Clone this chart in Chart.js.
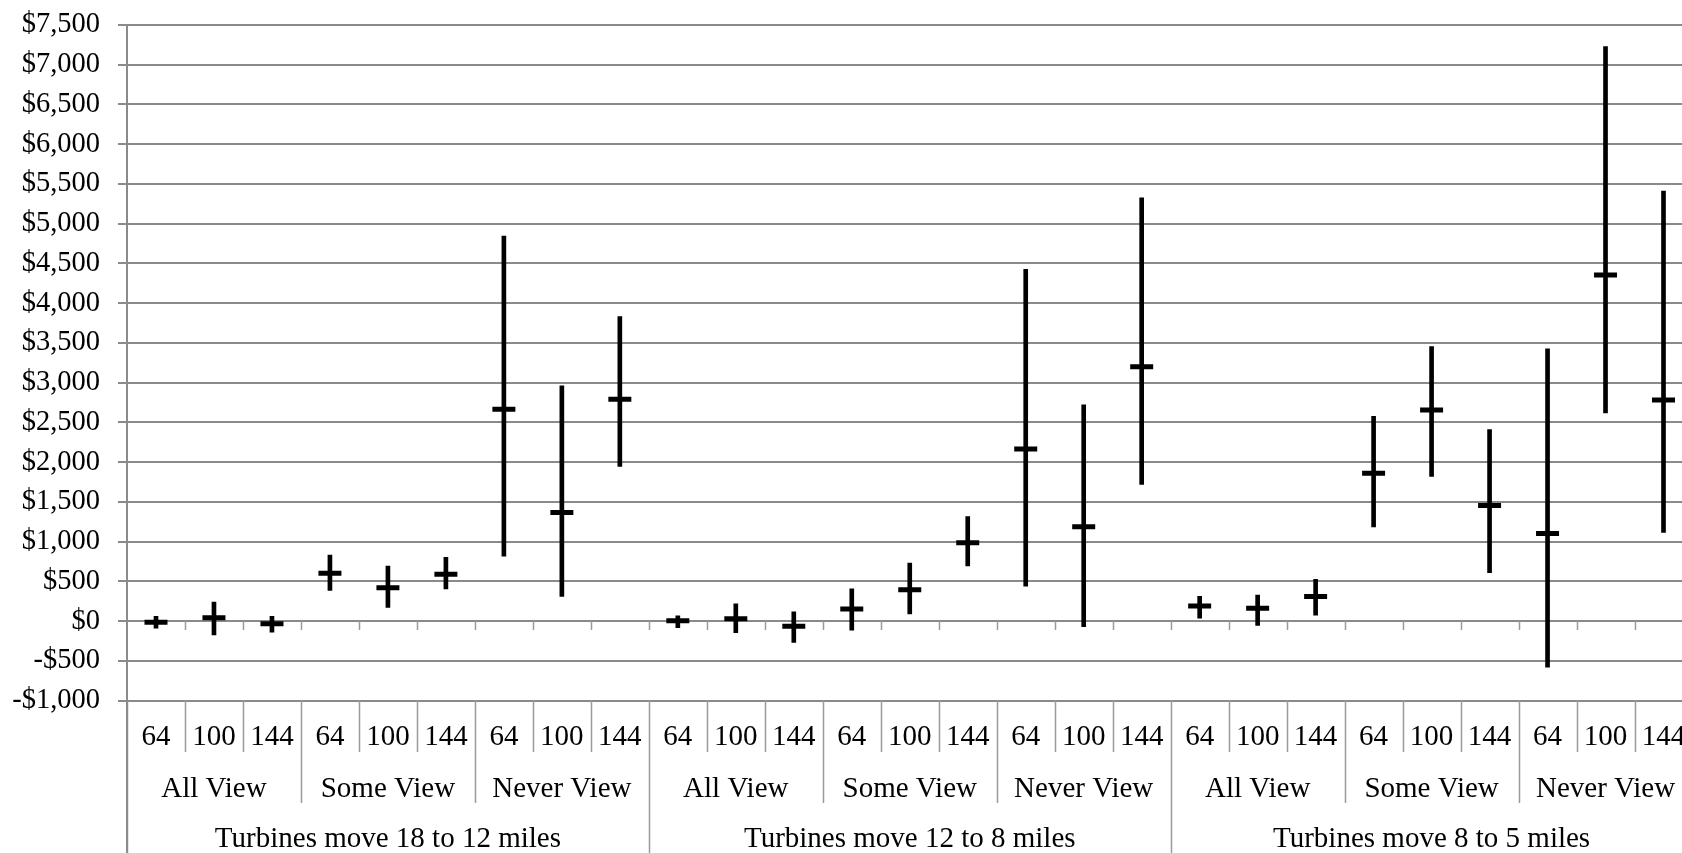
<!DOCTYPE html>
<html>
<head>
<meta charset="utf-8">
<script src="https://cdn.jsdelivr.net/npm/chart.js@4.4.1/dist/chart.umd.min.js"></script>
<style>
html, body { margin: 0; padding: 0; background: #fff; overflow: hidden; }
#wrap { position: relative; width: 1709px; height: 853px; }
</style>
</head>
<body>
<div id="wrap"><canvas id="myChart"></canvas></div>
<script>
// category levels (outer -> inner)
var distances = ['Turbines move 18 to 12 miles', 'Turbines move 12 to 8 miles', 'Turbines move 8 to 5 miles'];
var views = ['All View', 'Some View', 'Never View'];
var sizes = ['64', '100', '144'];

// mean WTP with high/low range, one value per size/view/distance
var means = [-15, 40, -35, 600, 420, 590, 2665, 1365, 2790,
             5, 30, -65, 150, 395, 985, 2165, 1185, 3200,
             190, 160, 310, 1860, 2655, 1455, 1100, 4355, 2780];
var highs = [60, 240, 58, 830, 690, 800, 4845, 2960, 3830,
             65, 215, 115, 405, 730, 1315, 4425, 2720, 5325,
             310, 325, 525, 2575, 3455, 2410, 3425, 7230, 5410];
var lows = [-90, -175, -140, 385, 170, 405, 815, 310, 1945,
            -85, -145, -270, -115, 90, 695, 440, -70, 1720,
            35, -55, 75, 1185, 1820, 610, -580, 2620, 1115];

var yTicks = [-1000, -500, 0, 500, 1000, 1500, 2000, 2500, 3000, 3500, 4000, 4500, 5000, 5500, 6000, 6500, 7000, 7500];

var labels = [];
distances.forEach(function () {
    views.forEach(function () {
        sizes.forEach(function (s) { labels.push(s); });
    });
});

var family = '"Liberation Serif", "Times New Roman", serif';
var xFont = { family: family, size: 29 };
var yFont = { family: family, size: 28.5 };
var gray = '#8a8a8a';

function money(v) {
    var s = '$' + Math.abs(v).toLocaleString('en-US');
    return v < 0 ? '-' + s : s;
}

// draws the grouped labels under the axis + tick marks on the $0 line
var groupLabels = {
    id: 'groupLabels',
    afterDraw: function (chart) {
        var ctx = chart.ctx, x = chart.scales.x, y = chart.scales.y, area = chart.chartArea;
        var w = x.getPixelForValue(1) - x.getPixelForValue(0);
        var y0 = y.getPixelForValue(0);
        var bottom = area.bottom;
        ctx.save();
        ctx.strokeStyle = '#9a9a9a';
        ctx.lineWidth = 1.5;
        for (var i = 0; i <= labels.length; i++) {
            var bx = Math.round(x.getPixelForValue(i) - w / 2) + 0.5;
            var end = (i % 9 === 0) ? chart.height : (i % 3 === 0 ? 803 : 752);
            ctx.beginPath();
            ctx.moveTo(bx, bottom);
            ctx.lineTo(bx, end);
            ctx.stroke();
            if (i > 0) {
                ctx.beginPath();
                ctx.moveTo(bx, y0);
                ctx.lineTo(bx, y0 + 9);
                ctx.stroke();
            }
        }
        // left border down to the bottom
        ctx.strokeStyle = gray;
        ctx.lineWidth = 2;
        ctx.beginPath();
        ctx.moveTo(area.left, area.top);
        ctx.lineTo(area.left, chart.height);
        ctx.stroke();

        ctx.fillStyle = '#000';
        ctx.font = '29px ' + family;
        ctx.textAlign = 'center';
        ctx.textBaseline = 'middle';
        for (var d = 0; d < distances.length; d++) {
            for (var v = 0; v < views.length; v++) {
                var k = d * 9 + v * 3;
                var cx = (x.getPixelForValue(k) + x.getPixelForValue(k + 2)) / 2;
                ctx.fillText(views[v], cx, 789);
            }
            var c2 = (x.getPixelForValue(d * 9) + x.getPixelForValue(d * 9 + 8)) / 2;
            ctx.fillText(distances[d], c2, 839.5);
        }
        ctx.restore();
    }
};

var ctx = document.getElementById('myChart').getContext('2d');
var wtpChart = new Chart(ctx, {
    type: 'bar',
    data: {
        labels: labels,
        datasets: [{
            type: 'bar',
            data: lows.map(function (l, i) { return [l, highs[i]]; }),
            backgroundColor: '#000',
            borderWidth: 0,
            barThickness: 4,
            order: 2
        }, {
            type: 'line',
            data: means,
            showLine: false,
            pointStyle: 'line',
            pointRadius: 11.5,
            pointHoverRadius: 11.5,
            borderColor: '#000',
            pointBorderWidth: 5,
            pointHoverBorderWidth: 5,
            order: 1
        }]
    },
    options: {
        responsive: true,
        maintainAspectRatio: false,
        animation: false,
        layout: { padding: { top: 25, right: 7, left: 0, bottom: 0 } },
        plugins: {
            legend: { display: false },
            tooltip: { enabled: false }
        },
        scales: {
            x: {
                offset: true,
                grid: { display: false, drawTicks: false },
                border: { display: false },
                ticks: { font: xFont, color: '#000', padding: 19, maxRotation: 0, autoSkip: false },
                afterFit: function (s) {
                    s.height = 152.5;
                    s.paddingLeft = 0;
                    s.paddingRight = 0;
                }
            },
            y: {
                min: -1000,
                max: 7500,
                afterBuildTicks: function (s) { s.ticks = yTicks.map(function (v) { return { value: v }; }); },
                grid: { color: gray, lineWidth: 2, tickLength: 9 },
                border: { color: gray, width: 2 },
                ticks: { font: yFont, color: '#000', padding: 18, callback: function (v) { return money(v); } },
                afterFit: function (s) {
                    s.width = 127;
                    s.paddingTop = 0;
                    s.paddingBottom = 0;
                }
            }
        }
    },
    plugins: [groupLabels]
});
</script>
</body>
</html>
